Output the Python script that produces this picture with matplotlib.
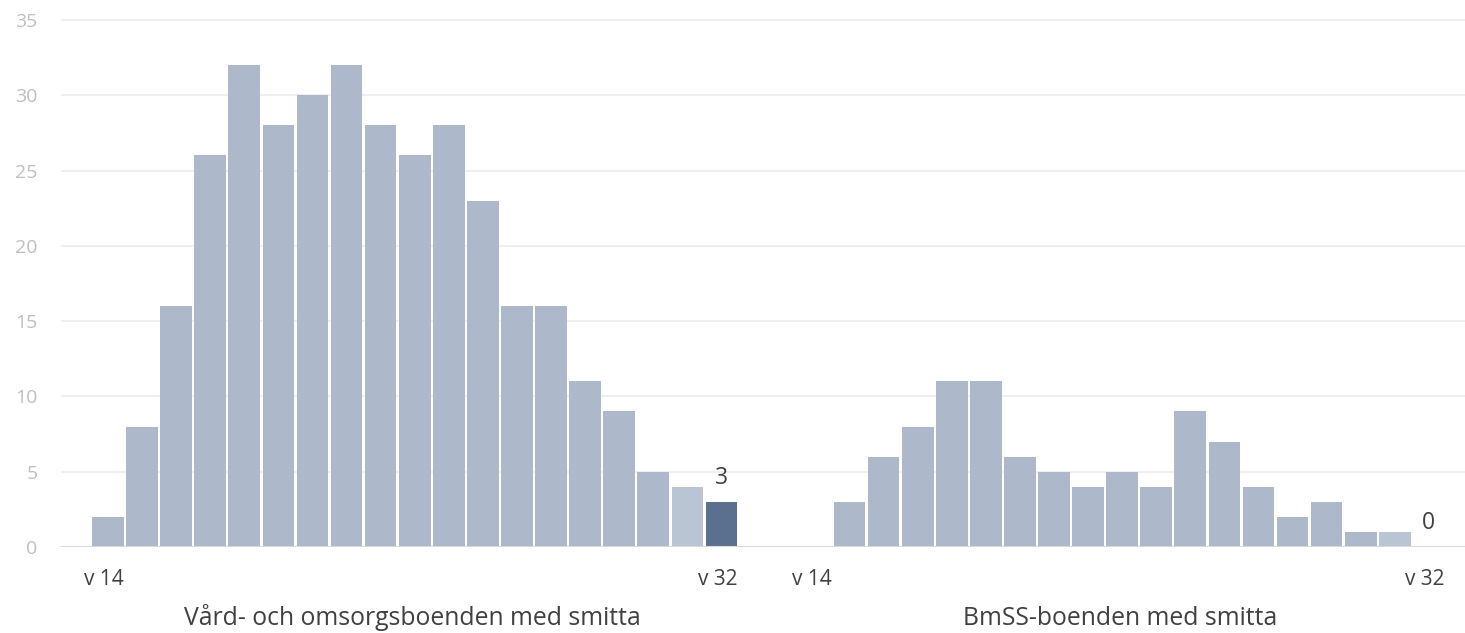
import numpy as np
import matplotlib.pyplot as plt

plt.rcParams["font.family"] = ["Open Sans", "DejaVu Sans"]

# =========================
# data
# =========================

weeks = list(range(14, 33))  # v 14 .. v 32

vard_boenden = [2, 8, 16, 26, 32, 28, 30, 32, 28, 26, 28, 23, 16, 16, 11, 9, 5, 4, 3]
bmss_boenden = [0, 3, 6, 8, 11, 11, 6, 5, 4, 5, 4, 9, 7, 4, 2, 3, 1, 1, 0]

group_titles = ["Vård- och omsorgsboenden med smitta", "BmSS-boenden med smitta"]

y_ticks = [0, 5, 10, 15, 20, 25, 30, 35]

# =========================
# style
# =========================

COL_BAR = "#adb9cb"
COL_PREV = "#b9c5d3"
COL_LAST = "#5b6f8f"
COL_GRID = "#efefef"
COL_ZERO = "#d9d9d9"
COL_TEXT = "#404040"
COL_YTICK = "#bfbfbf"

GROUP_OFFSET = 20.76  # start of the second group, in bar slots

fig = plt.figure(figsize=(14.65, 6.33), dpi=100)
ax = fig.add_axes([61 / 1465, 86 / 633, 1 - 61 / 1465, 531.6 / 633])

n = len(weeks)
colors = [COL_BAR] * (n - 2) + [COL_PREV, COL_LAST]

for i, values in enumerate([vard_boenden, bmss_boenden]):
    x = np.arange(n) + i * GROUP_OFFSET
    ax.bar(x, values, width=0.93, color=colors, zorder=3)

    # sista veckans värde
    ax.text(x[-1], values[-1] + 1.2, str(values[-1]),
            ha="center", va="baseline", fontsize=16.5, color=COL_TEXT)

    # första och sista veckan
    ax.text(x[0] - 0.12, -2.52, f"v {weeks[0]}", ha="center", va="baseline",
            fontsize=15, color=COL_TEXT)
    ax.text(x[-1] - 0.12, -2.52, f"v {weeks[-1]}", ha="center", va="baseline",
            fontsize=15, color=COL_TEXT)

    # gruppens rubrik
    ax.text(x[(n - 1) // 2] - 0.06, -5.18, group_titles[i], ha="center", va="baseline",
            fontsize=17.8, color=COL_TEXT)

ax.set_xlim(-1.38, GROUP_OFFSET + n - 1 + 1.06)
ax.set_ylim(0, 35.3)

ax.set_yticks(y_ticks)
ax.tick_params(axis="y", length=0, pad=17, labelsize=14, labelcolor=COL_YTICK)
ax.set_xticks([])

for y in y_ticks[1:]:
    ax.axhline(y, color=COL_GRID, linewidth=1.5, zorder=1)
ax.axhline(0, color=COL_ZERO, linewidth=1.5, zorder=4)

for spine in ax.spines.values():
    spine.set_visible(False)

fig.savefig("out.png", dpi=100)
